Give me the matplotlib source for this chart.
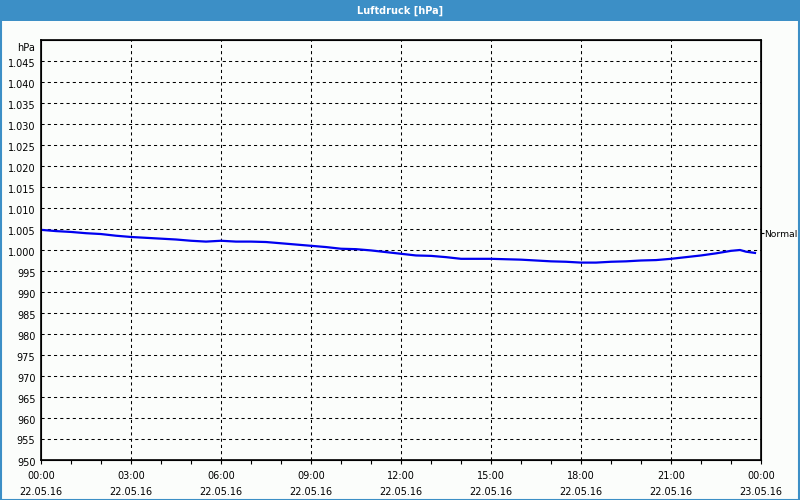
import matplotlib
matplotlib.use("Agg")
import matplotlib.pyplot as plt
import matplotlib.transforms as mtransforms
from matplotlib.patches import Rectangle
from matplotlib.ticker import MultipleLocator

# Luftdruck over one day, half-hour steps (hours since 22.05.16 00:00)
hours = [0.0, 0.5, 1.0, 1.5, 2.0, 2.5, 3.0, 3.5, 4.0, 4.5, 5.0, 5.5,
         6.0, 6.5, 7.0, 7.5, 8.0, 8.5, 9.0, 9.5, 10.0, 10.5, 11.0, 11.5,
         12.0, 12.5, 13.0, 13.5, 14.0, 14.5, 15.0, 15.5, 16.0, 16.5, 17.0, 17.5,
         18.0, 18.5, 19.0, 19.5, 20.0, 20.5, 21.0, 21.5, 22.0, 22.5, 23.0, 23.3,
         23.5, 23.8]
pressure = [1004.8, 1004.5, 1004.3, 1004.0, 1003.8, 1003.4, 1003.1, 1002.9, 1002.7, 1002.5, 1002.2, 1002.0,
            1002.2, 1002.0, 1002.0, 1001.9, 1001.6, 1001.3, 1001.0, 1000.7, 1000.3, 1000.2, 999.9, 999.5,
            999.1, 998.7, 998.6, 998.3, 997.9, 997.9, 997.9, 997.8, 997.7, 997.5, 997.3, 997.2,
            997.0, 997.0, 997.2, 997.3, 997.5, 997.6, 997.9, 998.3, 998.7, 999.2, 999.8, 1000.0,
            999.6, 999.3]

normal_value = 1004.0
x_ticks = [0, 3, 6, 9, 12, 15, 18, 21, 24]
x_labels = ["00:00\n22.05.16", "03:00\n22.05.16", "06:00\n22.05.16", "09:00\n22.05.16",
            "12:00\n22.05.16", "15:00\n22.05.16", "18:00\n22.05.16", "21:00\n22.05.16",
            "00:00\n23.05.16"]
y_ticks = list(range(950, 1051, 5))
y_labels = ["{:,}".format(v).replace(",", ".") for v in y_ticks[:-1]] + ["hPa"]

title = "Luftdruck [hPa]"
bar_blue = "#3c8fc6"
bg = "#fbfdfb"

plt.rcParams['font.family'] = ['DejaVu Sans']
plt.rcParams['font.size'] = 7

fig = plt.figure(figsize=(8, 5), dpi=100, facecolor=bg)

# window frame and title bar
fig.patches.append(Rectangle((0, 1 - 21 / 500), 1, 21 / 500, transform=fig.transFigure,
                             facecolor=bar_blue, edgecolor="none"))
fig.patches.append(Rectangle((0.5 / 800, 0.5 / 500), 1 - 1.5 / 800, 1 - 1 / 500, transform=fig.transFigure,
                             facecolor="none", edgecolor=bar_blue, linewidth=1.5))
fig.text(0.5, 1 - 10.5 / 500, title, color="white", fontweight="bold", fontsize=7,
         ha="center", va="center")

ax = fig.add_axes([41 / 800, 40 / 500, 720 / 800, 420 / 500])
ax.set_facecolor(bg)
ax.plot(hours, pressure, color="#0000f0", linewidth=1.6)

ax.set_xlim(0, 24)
ax.set_ylim(950, 1050)
ax.set_xticks(x_ticks)
ax.set_xticklabels(x_labels, linespacing=1.7)
ax.xaxis.set_minor_locator(MultipleLocator(1))
ax.set_yticks(y_ticks)
ax.set_yticklabels(y_labels)

ax.tick_params(axis="x", which="both", direction="out", length=3, width=0.8, pad=5, colors="black")
ax.tick_params(axis="y", direction="out", length=0, pad=4)

# labels sit a little below their grid line, "hPa" clearly under the top border
down = mtransforms.ScaledTranslation(0, -1.5 / 100, fig.dpi_scale_trans)
for lbl in ax.get_yticklabels():
    lbl.set_transform(lbl.get_transform() + down)
top_lbl = ax.get_yticklabels()[-1]
top_lbl.set_transform(top_lbl.get_transform() + mtransforms.ScaledTranslation(0, -5 / 100, fig.dpi_scale_trans))

for v in y_ticks[1:-1]:
    ax.axhline(v, color="black", linewidth=0.75, dashes=(3, 3), zorder=1)
for v in x_ticks[1:-1]:
    ax.axvline(v, color="black", linewidth=0.75, dashes=(3, 3), zorder=1)

for s in ax.spines.values():
    s.set_linewidth(1.2)
    s.set_color("black")

# "Normal" marker on the right axis
rax = ax.twinx()
rax.set_ylim(950, 1050)
rax.set_yticks([normal_value])
rax.set_yticklabels(["Normal"], fontsize=6.6)
rax.tick_params(axis="y", direction="out", length=2, width=0.8, pad=0.5)

fig.savefig("out.png", dpi=100, facecolor=bg)
